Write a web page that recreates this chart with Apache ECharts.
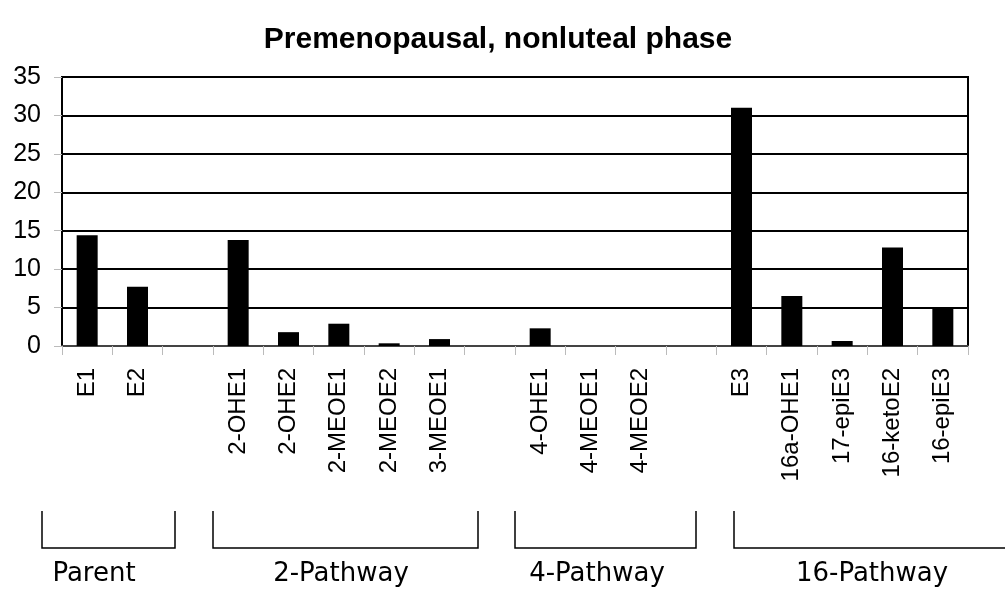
<!DOCTYPE html>
<html>
<head>
<meta charset="utf-8">
<script src="https://cdn.jsdelivr.net/npm/echarts@6/dist/echarts.min.js"></script>
<style>
  html, body { margin: 0; padding: 0; background: #fff; }
  #chart { width: 1005px; height: 592px; }
</style>
</head>
<body>
<div id="chart"></div>
<script>
// categories (blank slots separate the pathway groups)
const categories = [
  "E1", "E2", "",
  "2-OHE1", "2-OHE2", "2-MEOE1", "2-MEOE2", "3-MEOE1", "",
  "4-OHE1", "4-MEOE1", "4-MEOE2", "",
  "E3", "16a-OHE1", "17-epiE3", "16-ketoE2", "16-epiE3"
];
const values = [
  14.4, 7.7, null,
  13.8, 1.8, 2.9, 0.35, 0.9, null,
  2.3, 0, 0, null,
  31.0, 6.5, 0.65, 12.8, 4.9
];
const yTicks = [0, 5, 10, 15, 20, 25, 30, 35];
// group brackets under the axis: [label, left, right, open on right, label centre]
const groups = [
  ["Parent", 42, 175, false, 94],
  ["2-Pathway", 213, 478, false, 341],
  ["4-Pathway", 515, 696, false, 597],
  ["16-Pathway", 734, 1005, true, 872]
];

const chart = echarts.init(document.getElementById("chart"));

// brackets + group names
let graphics = [];
groups.forEach(g => {
  let pts = g[3]
    ? [[g[1], 511], [g[1], 548], [g[2], 548]]
    : [[g[1], 511], [g[1], 548], [g[2], 548], [g[2], 511]];
  graphics.push({
    type: "polyline",
    shape: { points: pts },
    style: { stroke: "#000", lineWidth: 1.5, fill: null }
  });
  graphics.push({
    type: "text",
    x: g[4],
    y: 574,
    style: {
      text: g[0],
      fill: "#000",
      font: "26px 'DejaVu Sans'",
      align: "center",
      verticalAlign: "middle"
    }
  });
});

let option = {
  animation: false,
  title: {
    text: "Premenopausal, nonluteal phase",
    left: 493,
    textAlign: "center",
    top: 20,
    textStyle: {
      fontFamily: "Liberation Sans",
      fontSize: 30,
      fontWeight: "bold",
      color: "#000"
    }
  },
  grid: {
    left: 62,
    right: 37,
    top: 77,
    bottom: 246,
    show: true,
    borderColor: "#000",
    borderWidth: 2,
    backgroundColor: "transparent"
  },
  xAxis: {
    type: "category",
    data: categories,
    axisLine: { lineStyle: { color: "#444", width: 2 } },
    axisTick: { show: true, length: 9, lineStyle: { color: "#bbb" } },
    axisLabel: {
      rotate: 90,
      interval: 0,
      margin: 22,
      fontFamily: "Liberation Sans",
      fontSize: 24,
      color: "#000"
    }
  },
  yAxis: {
    type: "value",
    min: yTicks[0],
    max: yTicks[yTicks.length - 1],
    interval: 5,
    axisLine: { show: true, lineStyle: { color: "#000", width: 2 } },
    axisTick: { show: true, length: 8, inside: false, lineStyle: { color: "#bbb" } },
    axisLabel: {
      margin: 21,
      fontFamily: "Liberation Sans",
      fontSize: 25,
      color: "#000"
    },
    splitLine: { show: true, lineStyle: { color: "#000", width: 2 } }
  },
  series: [{
    type: "bar",
    data: values,
    barWidth: 21,
    itemStyle: { color: "#000" }
  }],
  graphic: graphics
};

chart.setOption(option);
</script>
</body>
</html>
